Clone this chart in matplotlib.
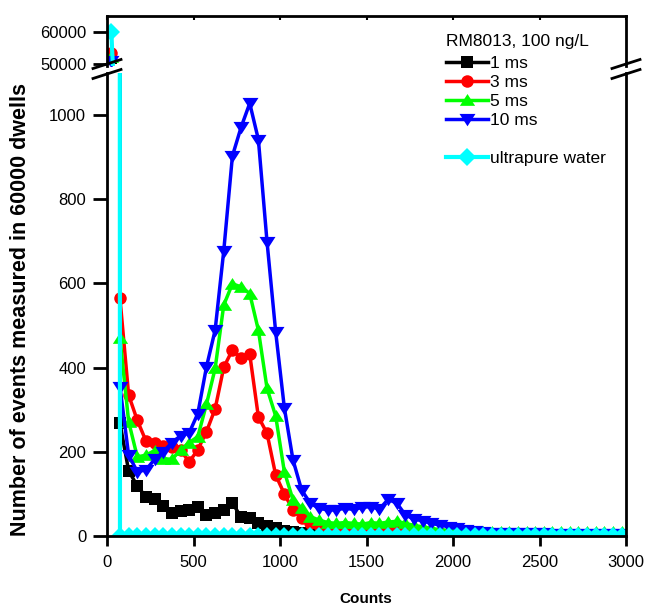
import numpy as np
import matplotlib
matplotlib.use('Agg')
import matplotlib.pyplot as plt
from matplotlib.lines import Line2D

plt.rcParams['font.family'] = ['Liberation Sans', 'DejaVu Sans']

# bin centres (counts), 50-count bins
counts = np.arange(25, 3000, 50)

ms1 = [52000, 268, 155, 119, 93, 87, 71, 54, 59, 62, 68, 50, 55, 62, 79, 44, 42, 30, 24, 18,
       12, 9, 6, 4, 3, 2] + [1] * 34
ms3 = [53500, 565, 335, 275, 226, 221, 215, 212, 204, 176, 205, 248, 302, 401, 442, 422, 432, 283, 244, 145,
       100, 62, 42, 30, 25, 22, 20, 20, 18, 18, 16, 15, 14, 12, 10, 9, 8, 7, 6, 5,
       4, 4, 4, 3, 3, 3, 3, 3, 3, 3, 3, 3, 3, 3, 3, 3, 3, 3, 3, 3]
ms5 = [52300, 470, 272, 188, 192, 203, 184, 182, 204, 222, 236, 313, 398, 549, 599, 592, 576, 489, 351, 285,
       153, 86, 66, 46, 38, 32, 30, 32, 30, 28, 32, 30, 33, 35, 30, 25, 22, 18, 15, 13,
       12, 11, 10, 10, 10, 9, 10, 9, 10, 9, 10, 9, 10, 9, 10, 9, 10, 9, 10, 10]
ms10 = [51000, 355, 192, 153, 157, 182, 200, 222, 238, 245, 291, 402, 489, 678, 903, 971, 1028, 942, 699, 485,
        305, 181, 109, 78, 66, 62, 62, 66, 63, 68, 70, 64, 87, 78, 50, 40, 36, 30, 26, 22,
        18, 15, 12, 10, 8, 8, 7, 7, 6, 6, 6, 5, 5, 5, 5, 5, 5, 5, 5, 5]
water = [60000] + [0] * 59

series = [
    ('1 ms', ms1, 'black', 's', 8),
    ('3 ms', ms3, '#ff0000', 'o', 9),
    ('5 ms', ms5, '#00ff00', [(-1, -0.7), (1, -0.7), (0, 0.85)], 11),
    ('10 ms', ms10, '#0000ff', [(-1, 0.7), (1, 0.7), (0, -0.85)], 11.5),
]
water_label = 'ultrapure water'
legend_title = 'RM8013, 100 ng/L'

W, H = 646, 605
fig = plt.figure(figsize=(W / 100, H / 100), dpi=100)


def fx(px):
    return px / W


def fy(py):
    return 1 - py / H


ax_lo = fig.add_axes([fx(107), fy(536), fx(626) - fx(107), fy(73) - fy(536)])
ax_hi = fig.add_axes([fx(107), fy(66), fx(626) - fx(107), fy(16) - fy(66)])

handles = []
for ax in (ax_lo, ax_hi):
    for label, vals, col, mk, ms in series:
        ln, = ax.plot(counts, vals, color=col, marker=mk, markersize=ms, lw=2.5,
                      markeredgewidth=0, label=label)
        if ax is ax_lo:
            handles.append(ln)
    lw_, = ax.plot(counts, water, color='#00ffff', marker='D', markersize=9, lw=3,
                   markeredgewidth=0, label=water_label)
    if ax is ax_lo:
        water_handle = lw_

ax_lo.set_xlim(0, 3000)
ax_hi.set_xlim(0, 3000)
ax_lo.set_ylim(0, 1100)
ax_hi.set_ylim(49375, 65000)

ax_lo.set_yticks([0, 200, 400, 600, 800, 1000])
ax_lo.set_xticks(np.arange(0, 3001, 500))
ax_hi.set_yticks([50000, 60000])
ax_hi.set_xticks(np.arange(0, 3001, 500))

for ax in (ax_lo, ax_hi):
    for s in ax.spines.values():
        s.set_linewidth(2)
ax_lo.spines['top'].set_visible(False)
ax_hi.spines['bottom'].set_visible(False)

ax_lo.tick_params(axis='y', direction='out', length=10, width=2, pad=5, labelsize=12)
ax_lo.tick_params(axis='x', direction='out', length=7.5, width=2, pad=6, labelsize=12)
ax_hi.tick_params(axis='y', direction='out', length=10, width=2, pad=5, labelsize=12)
ax_hi.tick_params(axis='x', which='both', bottom=False, labelbottom=False, top=True,
                  direction='in', length=3, width=1.5)

# axis break marks
for xc in (107, 626):
    for yc in (64, 74):
        fig.add_artist(Line2D([fx(xc - 14), fx(xc + 14)], [fy(yc + 4.5), fy(yc - 4.5)],
                              color='black', lw=2, transform=fig.transFigure))

fig.text(fx(21), fy(310), 'Number of events measured in 60000 dwells', rotation=90,
         ha='center', va='center', fontsize=15.5, fontweight='bold')
fig.text(fx(366), fy(599), 'Counts', ha='center', va='center', fontsize=11, fontweight='bold')

blank = Line2D([], [], color='none')
leg = fig.legend(handles + [blank, water_handle], ['1 ms', '3 ms', '5 ms', '10 ms', ' ', water_label],
                 title=legend_title, loc='upper left', bbox_to_anchor=(fx(446), fy(34)),
                 frameon=False, fontsize=12.5, title_fontsize=12.5, handlelength=2.4,
                 handletextpad=0.15, labelspacing=0.22, borderpad=0, borderaxespad=0,
                 alignment='left')
leg._legend_box.sep = 5

fig.savefig('out.png', dpi=100)
